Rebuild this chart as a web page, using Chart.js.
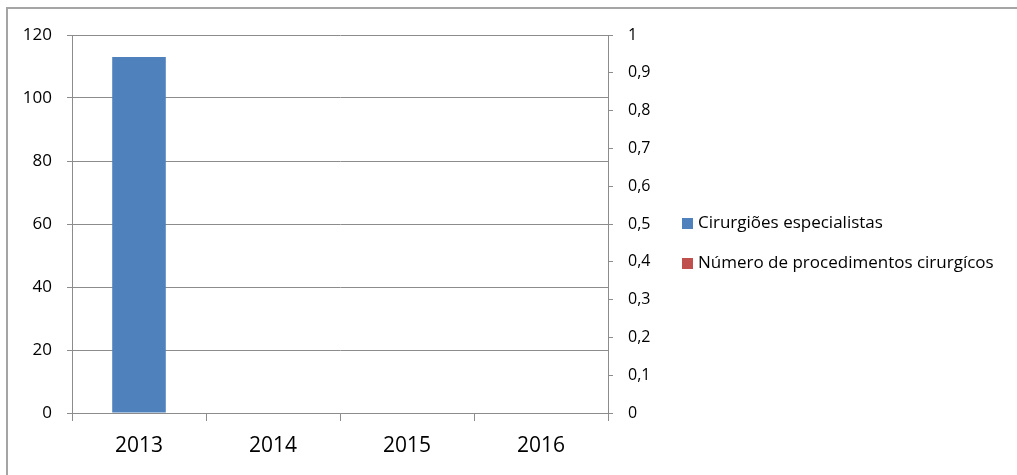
<!DOCTYPE html>
<html>
<head>
<meta charset="utf-8">
<script src="https://cdn.jsdelivr.net/npm/chart.js@4/dist/chart.umd.min.js"></script>
<style>
  html, body { margin: 0; padding: 0; background: #fff; overflow: hidden; }
  #wrap { position: relative; width: 1017px; height: 475px; }
  #frame { position: absolute; left: 6px; top: 7px; width: 1100px; height: 600px;
    border-top: 2px solid #a5a5a5; border-left: 2px solid #a5a5a5; }
  canvas { position: absolute; left: 0; top: 0; }
  .legend { position: absolute; left: 682px; font-family: "Open Sans", sans-serif; font-size: 17px; color: #000; }
  .legend div { position: absolute; white-space: nowrap; line-height: 16px; }
  .legend span.sw { display: inline-block; width: 11px; height: 11px; margin-right: 5px; vertical-align: -1px; }
</style>
</head>
<body>
<div id="wrap">
  <div id="frame"></div>
  <canvas id="c" width="1017" height="475"></canvas>
  <div class="legend" id="legend"></div>
</div>
<script>
  // dados
  const categories = ['2013', '2014', '2015', '2016'];
  const cirurgioes = [113, 0, 0, 0];
  const procedimentos = [0, 0, 0, 0];
  const seriesNames = ['Cirurgiões especialistas', 'Número de procedimentos cirurgícos'];
  const seriesColors = ['#4F81BD', '#C0504D'];

  const gridColor = '#8c8c8c';
  const fontFam = '"Open Sans", sans-serif';

  new Chart(document.getElementById('c'), {
    type: 'bar',
    data: {
      labels: categories,
      datasets: [
        { label: seriesNames[0], data: cirurgioes, backgroundColor: seriesColors[0], yAxisID: 'y' },
        { label: seriesNames[1], data: procedimentos, backgroundColor: seriesColors[1], yAxisID: 'y1' },
      ],
    },
    options: {
      responsive: false, devicePixelRatio: 1, animation: false,
      grouped: false,
      categoryPercentage: 1, barPercentage: 0.4,
      layout: { padding: { left: 0, top: 35, right: 349, bottom: 0 } },
      plugins: { legend: { display: false }, tooltip: { enabled: false } },
      scales: {
        x: {
          offset: true,
          grid: { offset: true, drawOnChartArea: false, drawTicks: true, tickLength: 8, color: gridColor },
          border: { color: gridColor },
          ticks: { color: '#000', font: { family: fontFam, size: 21 }, padding: 12 },
          afterFit: s => { s.height = 62; },
        },
        y: {
          min: 0, max: 120,
          ticks: { stepSize: 20, color: '#000', font: { family: fontFam, size: 17 }, padding: 15 },
          grid: { color: gridColor, tickLength: 5 },
          border: { color: gridColor },
          afterFit: s => { s.width = 72; },
        },
        y1: {
          position: 'right', min: 0, max: 1,
          ticks: {
            stepSize: 0.1, color: '#000', font: { family: fontFam, size: 16 }, padding: 15,
            callback: v => String(Math.round(v * 10) / 10).replace('.', ','),
          },
          grid: { drawOnChartArea: false, color: gridColor, tickLength: 5 },
          border: { color: gridColor },
          afterFit: s => { s.width = 60; },
        },
      },
    },
  });

  // legenda à direita
  const legend = document.getElementById('legend');
  const legendTops = [214, 254];
  seriesNames.forEach((name, i) => {
    const row = document.createElement('div');
    row.style.top = legendTops[i] + 'px';
    row.innerHTML = '<span class="sw" style="background:' + seriesColors[i] + '"></span>' + name;
    legend.appendChild(row);
  });
</script>
</body>
</html>
